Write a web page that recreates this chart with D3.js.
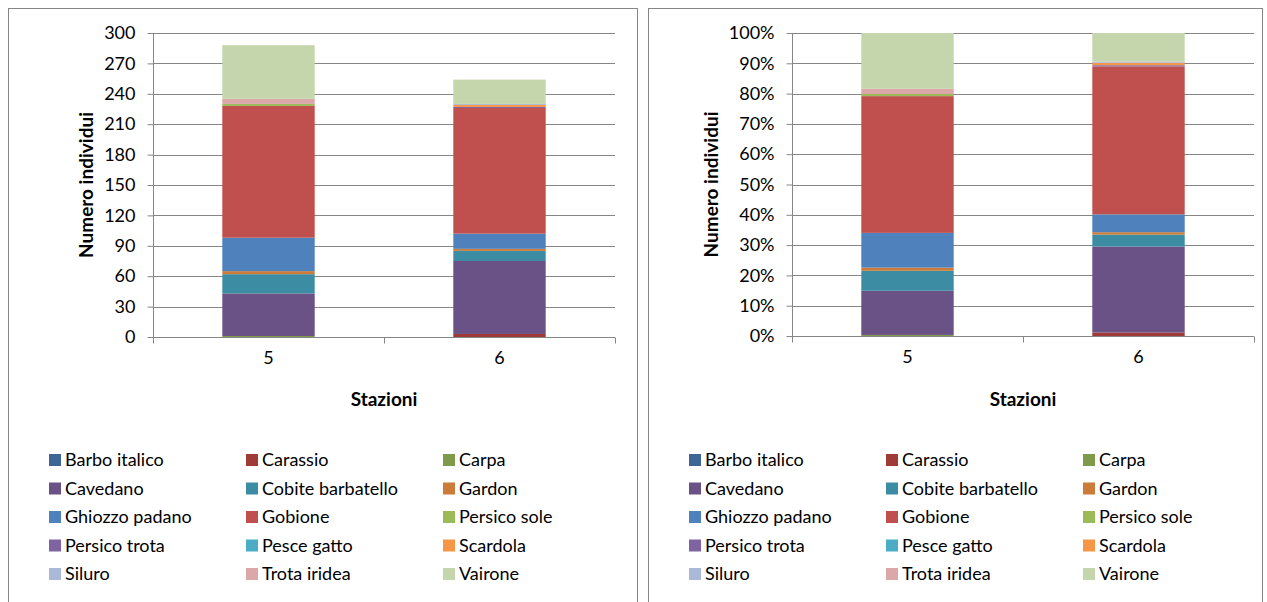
<!DOCTYPE html>
<html>
<head>
<meta charset="utf-8">
<script src="https://cdn.jsdelivr.net/npm/d3@7"></script>
<style>
  html, body { margin: 0; padding: 0; background: #fff; }
  svg text { font-family: "Lato", "Open Sans", sans-serif; fill: #000; }
</style>
</head>
<body>
<svg id="chart" width="1267" height="602"></svg>
<script>
// Fish species caught per sampling station
const species = [
  "Barbo italico", "Carassio", "Carpa", "Cavedano", "Cobite barbatello",
  "Gardon", "Ghiozzo padano", "Gobione", "Persico sole", "Persico trota",
  "Pesce gatto", "Scardola", "Siluro", "Trota iridea", "Vairone"
];
const colors = [
  "#3F6598", "#9E3B38", "#7F9A48", "#6A5186", "#3C8DA3",
  "#CC7B38", "#4F81BD", "#C0504D", "#9BBB59", "#8064A2",
  "#4BACC6", "#F79646", "#AAB9DA", "#DAA8A8", "#C6D6AC"
];
const stations = ["5", "6"];
const station5 = [0, 0, 1, 42, 19, 3, 33, 130, 2, 0, 0, 0, 0, 5, 53];
const station6 = [0, 3, 0, 72, 10, 2, 15, 124, 0, 1, 0, 2, 1, 0, 24];

const countTicks = [0, 30, 60, 90, 120, 150, 180, 210, 240, 270, 300];
const pctTicks = [0, 0.1, 0.2, 0.3, 0.4, 0.5, 0.6, 0.7, 0.8, 0.9, 1];

const rows = stations.map((s, i) => {
  const vals = i === 0 ? station5 : station6;
  const r = { station: s };
  species.forEach((sp, k) => r[sp] = vals[k]);
  return r;
});

const svg = d3.select("#chart");
const gridColor = "#868686";
const fontSize = "18px";

function drawPanel(opts) {
  const { x0, frameW, axisX, plotRight, yTop, yBottom, percent, titleX, legendX } = opts;
  const g = svg.append("g");

  g.append("rect")
    .attr("x", x0 + 0.5).attr("y", 8.5)
    .attr("width", frameW).attr("height", 600)
    .attr("fill", "#fff").attr("stroke", gridColor).attr("stroke-width", 1);

  const stack = d3.stack().keys(species);
  if (percent) stack.offset(d3.stackOffsetExpand);
  const series = stack(rows);

  const y = d3.scaleLinear()
    .domain(percent ? [0, 1] : [0, 300])
    .range([yBottom, yTop]);
  const x = d3.scaleBand()
    .domain(stations)
    .range([axisX, plotRight])
    .paddingInner(0.6).paddingOuter(0.3);

  // horizontal gridlines
  const ticks = percent ? pctTicks : countTicks;
  g.append("g").selectAll("line").data(ticks.slice(1)).join("line")
    .attr("x1", axisX).attr("x2", plotRight)
    .attr("y1", d => Math.round(y(d)) + 0.5).attr("y2", d => Math.round(y(d)) + 0.5)
    .attr("stroke", gridColor).attr("stroke-width", 1);

  // stacked bars
  g.append("g").selectAll("g").data(series).join("g")
    .attr("fill", (d, i) => colors[i])
    .selectAll("rect").data(d => d).join("rect")
    .attr("x", d => x(d.data.station))
    .attr("width", x.bandwidth())
    .attr("y", d => y(d[1]))
    .attr("height", d => Math.max(0, y(d[0]) - y(d[1])));

  // y axis
  const yAxis = d3.axisLeft(y)
    .tickValues(ticks)
    .tickSize(6)
    .tickPadding(12)
    .tickFormat(percent ? d3.format(".0%") : d3.format("d"));
  const ya = g.append("g").attr("transform", `translate(${axisX + 0.5},0)`).call(yAxis);
  ya.select(".domain").attr("stroke", gridColor).attr("d", `M0,${yTop}V${yBottom}`);
  ya.selectAll(".tick line").attr("stroke", gridColor);
  ya.selectAll(".tick text").style("font-size", fontSize).attr("fill", "#000");

  // x axis
  const xAxis = d3.axisBottom(x).tickSize(0).tickPadding(14);
  const xa = g.append("g").attr("transform", `translate(0,${yBottom + 0.5})`).call(xAxis);
  xa.select(".domain").attr("stroke", gridColor).attr("d", `M${axisX},0H${plotRight}`);
  xa.selectAll(".tick text").style("font-size", fontSize).attr("fill", "#000");
  // category boundary ticks
  xa.append("g").selectAll("line").data([axisX, (axisX + plotRight) / 2, plotRight]).join("line")
    .attr("x1", d => Math.round(d) + 0.5).attr("x2", d => Math.round(d) + 0.5)
    .attr("y1", 0).attr("y2", 6).attr("stroke", gridColor);

  // axis titles
  g.append("text")
    .attr("x", (axisX + plotRight) / 2).attr("y", 406)
    .attr("text-anchor", "middle")
    .style("font-size", "19px").style("font-weight", "bold")
    .text("Stazioni");
  g.append("text")
    .attr("transform", `translate(${titleX},${(yTop + yBottom) / 2}) rotate(-90)`)
    .attr("text-anchor", "middle")
    .style("font-size", "19px").style("font-weight", "bold")
    .text("Numero individui");

  // legend: three columns, five rows
  const colW = 197, rowH = 28.5;
  const leg = g.append("g").selectAll("g").data(species).join("g")
    .attr("transform", (d, i) => `translate(${legendX + (i % 3) * colW},${460 + Math.floor(i / 3) * rowH})`);
  leg.append("rect")
    .attr("x", 0).attr("y", -6).attr("width", 12).attr("height", 12)
    .attr("fill", (d, i) => colors[i]);
  leg.append("text")
    .attr("x", 16).attr("y", 0).attr("dy", "0.35em")
    .style("font-size", fontSize)
    .text(d => d);
}

drawPanel({ x0: 8, frameW: 629, axisX: 153, plotRight: 615, yTop: 33, yBottom: 337,
            percent: false, titleX: 93, legendX: 49 });
drawPanel({ x0: 648, frameW: 614, axisX: 792, plotRight: 1254, yTop: 33, yBottom: 336,
            percent: true, titleX: 718, legendX: 689 });
</script>
</body>
</html>
